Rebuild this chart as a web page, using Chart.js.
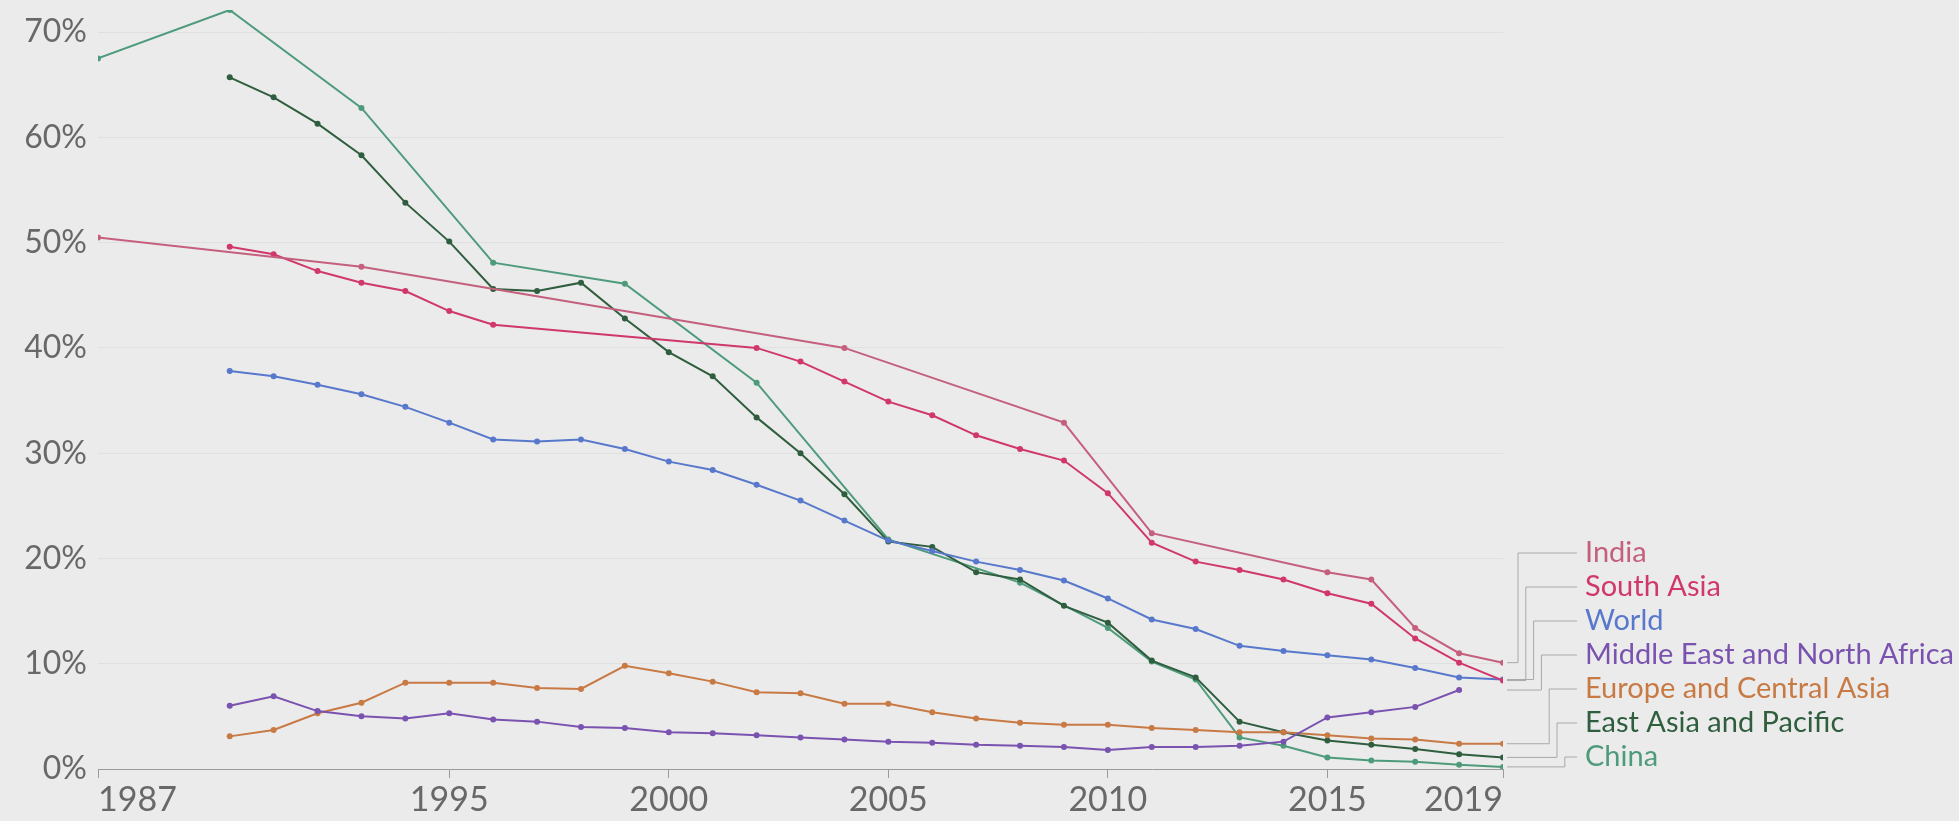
<!DOCTYPE html>
<html>
<head>
<meta charset="utf-8">
<script src="https://cdn.jsdelivr.net/npm/chart.js@4.4.1/dist/chart.umd.min.js"></script>
<style>
  html, body { margin: 0; padding: 0; background: #ebebeb; }
  #wrap { width: 1959px; height: 821px; position: relative; }
</style>
</head>
<body>
<div id="wrap"><canvas id="povertyChart"></canvas></div>
<script>
const seriesNames = ['India', 'South Asia', 'World', 'Middle East and North Africa', 'Europe and Central Asia', 'East Asia and Pacific', 'China'];
const seriesColors = ['#c4607e', '#d0386c', '#5878cc', '#7a52b0', '#c87a45', '#2f5e3e', '#4e9b7c'];

const indiaYears = [1987, 1993, 2004, 2009, 2011, 2015, 2016, 2017, 2018, 2019];
const indiaValues = [50.5, 47.7, 40.0, 32.9, 22.4, 18.7, 18.0, 13.4, 11.0, 10.1];

const southAsiaYears = [1990, 1991, 1992, 1993, 1994, 1995, 1996, 2002, 2003, 2004, 2005, 2006, 2007, 2008, 2009, 2010, 2011, 2012, 2013, 2014, 2015, 2016, 2017, 2018, 2019];
const southAsiaValues = [49.6, 48.9, 47.3, 46.2, 45.4, 43.5, 42.2, 40.0, 38.7, 36.8, 34.9, 33.6, 31.7, 30.4, 29.3, 26.2, 21.5, 19.7, 18.9, 18.0, 16.7, 15.7, 12.4, 10.1, 8.4];

const worldYears = [1990, 1991, 1992, 1993, 1994, 1995, 1996, 1997, 1998, 1999, 2000, 2001, 2002, 2003, 2004, 2005, 2006, 2007, 2008, 2009, 2010, 2011, 2012, 2013, 2014, 2015, 2016, 2017, 2018, 2019];
const worldValues = [37.8, 37.3, 36.5, 35.6, 34.4, 32.9, 31.3, 31.1, 31.3, 30.4, 29.2, 28.4, 27.0, 25.5, 23.6, 21.7, 20.7, 19.7, 18.9, 17.9, 16.2, 14.2, 13.3, 11.7, 11.2, 10.8, 10.4, 9.6, 8.7, 8.5];

const menaYears = [1990, 1991, 1992, 1993, 1994, 1995, 1996, 1997, 1998, 1999, 2000, 2001, 2002, 2003, 2004, 2005, 2006, 2007, 2008, 2009, 2010, 2011, 2012, 2013, 2014, 2015, 2016, 2017, 2018];
const menaValues = [6.0, 6.9, 5.5, 5.0, 4.8, 5.3, 4.7, 4.5, 4.0, 3.9, 3.5, 3.4, 3.2, 3.0, 2.8, 2.6, 2.5, 2.3, 2.2, 2.1, 1.8, 2.1, 2.1, 2.2, 2.6, 4.9, 5.4, 5.9, 7.5];

const ecaYears = [1990, 1991, 1992, 1993, 1994, 1995, 1996, 1997, 1998, 1999, 2000, 2001, 2002, 2003, 2004, 2005, 2006, 2007, 2008, 2009, 2010, 2011, 2012, 2013, 2014, 2015, 2016, 2017, 2018, 2019];
const ecaValues = [3.1, 3.7, 5.3, 6.3, 8.2, 8.2, 8.2, 7.7, 7.6, 9.8, 9.1, 8.3, 7.3, 7.2, 6.2, 6.2, 5.4, 4.8, 4.4, 4.2, 4.2, 3.9, 3.7, 3.5, 3.5, 3.2, 2.9, 2.8, 2.4, 2.4];

const eapYears = [1990, 1991, 1992, 1993, 1994, 1995, 1996, 1997, 1998, 1999, 2000, 2001, 2002, 2003, 2004, 2005, 2006, 2007, 2008, 2009, 2010, 2011, 2012, 2013, 2014, 2015, 2016, 2017, 2018, 2019];
const eapValues = [65.7, 63.8, 61.3, 58.3, 53.8, 50.1, 45.6, 45.4, 46.2, 42.8, 39.6, 37.3, 33.4, 30.0, 26.1, 21.6, 21.1, 18.7, 18.0, 15.5, 13.9, 10.3, 8.7, 4.5, 3.5, 2.7, 2.3, 1.9, 1.4, 1.1];

const chinaYears = [1987, 1990, 1993, 1996, 1999, 2002, 2005, 2008, 2010, 2011, 2012, 2013, 2014, 2015, 2016, 2017, 2018, 2019];
const chinaValues = [67.5, 72.1, 62.8, 48.1, 46.1, 36.7, 21.8, 17.7, 13.4, 10.2, 8.5, 3.0, 2.2, 1.1, 0.8, 0.7, 0.4, 0.2];

const xTickYears = [1987, 1995, 2000, 2005, 2010, 2015, 2019];
const yTickValues = [0, 10, 20, 30, 40, 50, 60, 70];

const allYears = [indiaYears, southAsiaYears, worldYears, menaYears, ecaYears, eapYears, chinaYears];
const allValues = [indiaValues, southAsiaValues, worldValues, menaValues, ecaValues, eapValues, chinaValues];

const datasets = seriesNames.map((name, i) => ({
  label: name,
  data: allYears[i].map((yr, j) => ({ x: yr, y: allValues[i][j] })),
  borderColor: seriesColors[i],
  backgroundColor: seriesColors[i],
  borderWidth: 2,
  pointRadius: 3,
  pointBorderWidth: 0,
  tension: 0,
}));

const yMax = Math.max(...allValues.flat());

// line labels on the right, stacked, with elbow connectors
const endLabels = {
  id: 'endLabels',
  afterDraw(chart) {
    const { ctx, chartArea, scales: { y } } = chart;
    const n = datasets.length;
    const gap = 34;
    const ends = allValues.map((v) => y.getPixelForValue(v[v.length - 1]));
    const mean = ends.reduce((a, b) => a + b, 0) / n;
    const span = gap * (n - 1);
    const start = Math.min(mean - span / 2, chartArea.bottom - 12 - span);
    const labelX = chartArea.right + 82;

    ctx.save();
    ctx.strokeStyle = '#a8a8a8';
    ctx.lineWidth = 1;
    ctx.font = '29px Lato';
    ctx.textBaseline = 'middle';
    ctx.textAlign = 'left';
    for (let i = 0; i < n; i++) {
      const ly = start + i * gap;
      const vx = chartArea.right + 15 + i * 7.8;
      ctx.beginPath();
      ctx.moveTo(chartArea.right + 4, ends[i]);
      ctx.lineTo(vx, ends[i]);
      ctx.lineTo(vx, ly);
      ctx.lineTo(labelX - 8, ly);
      ctx.stroke();
      ctx.fillStyle = seriesColors[i];
      ctx.fillText(seriesNames[i], labelX, ly);
    }
    ctx.restore();
  },
};

new Chart(document.getElementById('povertyChart'), {
  type: 'line',
  data: { datasets },
  options: {
    responsive: true,
    maintainAspectRatio: false,
    animation: false,
    layout: { padding: { top: 10, right: 456, left: 0, bottom: 0 } },
    plugins: {
      legend: { display: false },
      tooltip: { enabled: false },
    },
    scales: {
      x: {
        type: 'linear',
        min: 1987,
        max: 2019,
        afterBuildTicks: (s) => { s.ticks = xTickYears.map((v) => ({ value: v })); },
        afterFit: (s) => { s.height = 52; },
        border: { display: true, color: '#9a9a9a', width: 1 },
        grid: { drawOnChartArea: false, drawTicks: true, tickLength: 9, color: '#9a9a9a' },
        ticks: {
          align: 'inner',
          maxRotation: 0,
          autoSkip: false,
          padding: 2,
          color: '#686868',
          font: { family: 'Lato', size: 34 },
          callback: (v) => String(v),
        },
      },
      y: {
        min: 0,
        max: yMax,
        afterBuildTicks: (s) => { s.ticks = yTickValues.map((v) => ({ value: v })); },
        afterFit: (s) => { s.width = 98; s.paddingTop = 0; s.paddingBottom = 0; },
        border: { display: false },
        grid: { color: 'rgba(0,0,0,0.045)', drawTicks: false },
        ticks: {
          padding: 11,
          color: '#686868',
          font: { family: 'Lato', size: 32 },
          callback: (v) => v + '%',
        },
      },
    },
  },
  plugins: [endLabels],
});
</script>
</body>
</html>
